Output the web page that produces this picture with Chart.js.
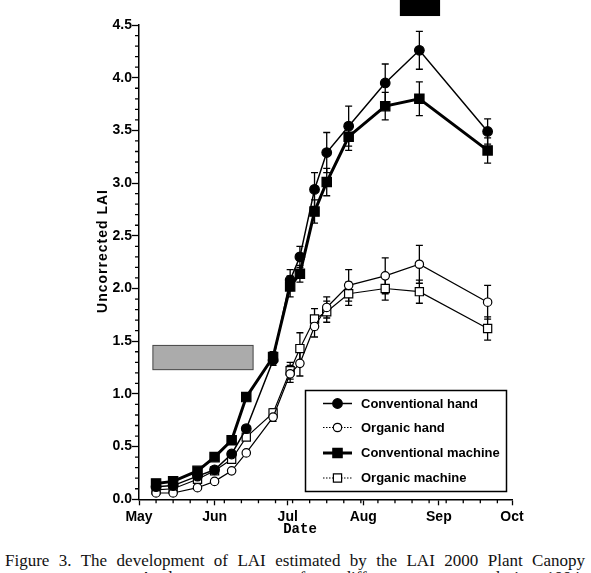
<!DOCTYPE html>
<html lang="en">
<head>
<meta charset="UTF-8">
<title>Figure 3 - LAI development</title>
<script src="https://cdn.jsdelivr.net/npm/chart.js@4"></script>
<style>
  body {
    margin: 0;
    background: #fff;
    width: 591px;
    height: 573px;
    overflow: hidden;
    position: relative;
  }
  .chart-box {
    position: absolute;
    left: 0;
    top: 0;
    width: 591px;
    height: 545px;
  }
  .caption {
    position: absolute;
    font-family: 'Liberation Serif', 'Times New Roman', serif;
    font-size: 17px;
    line-height: 20px;
    color: #111;
    text-align: justify;
    text-align-last: justify;
  }
  .line1 { left: 5px; width: 580px; top: 551px; }
  .line2 { left: 140px; width: 440px; top: 568px; }
</style>
</head>
<body>
<div class="chart-box"><canvas id="lai"></canvas></div>
<div class="caption line1">Figure 3. The development of LAI estimated by the LAI 2000 Plant Canopy</div>
<div class="caption line2">Analyzer over crops from different treatments during 1994 growing season.</div>

<script>
// days after 1 May
const days = [7, 14, 24, 31, 38, 44, 55, 62, 66, 72, 77, 86, 101, 115, 143];

const convHand    = [0.12, 0.13, 0.22, 0.28, 0.43, 0.67, 1.32, 2.08, 2.30, 2.94, 3.29, 3.54, 3.95, 4.26, 3.49];
const convHandErr = [0, 0, 0, 0, 0, 0, 0.05, 0.10, 0.10, 0.16, 0.19, 0.19, 0.18, 0.18, 0.12];
const orgHand     = [0.06, 0.06, 0.11, 0.17, 0.27, 0.44, 0.78, 1.19, 1.29, 1.64, 1.82, 2.03, 2.12, 2.23, 1.87];
const orgHandErr  = [0, 0, 0, 0, 0, 0, 0.04, 0.08, 0.12, 0.10, 0.10, 0.15, 0.17, 0.18, 0.16];
const convMach    = [0.15, 0.17, 0.27, 0.40, 0.56, 0.97, 1.35, 2.02, 2.14, 2.73, 3.01, 3.44, 3.73, 3.80, 3.31];
const convMachErr = [0, 0, 0, 0, 0, 0, 0.05, 0.10, 0.08, 0.11, 0.13, 0.13, 0.13, 0.16, 0.12];
const orgMach     = [0.09, 0.10, 0.19, 0.27, 0.38, 0.59, 0.82, 1.22, 1.43, 1.71, 1.78, 1.95, 2.00, 1.97, 1.62];
const orgMachErr  = [0, 0, 0, 0, 0, 0, 0.04, 0.08, 0.15, 0.10, 0.10, 0.11, 0.11, 0.11, 0.11];

const seriesNames = ['Conventional hand', 'Organic hand', 'Conventional machine', 'Organic machine'];

// month starts (days after 1 May) and their labels
const monthDays   = [0, 31, 61, 92, 123, 153];
const monthLabels = ['May', 'Jun', 'Jul', 'Aug', 'Sep', 'Oct'];
const weekDays    = [7, 14, 21, 28, 35, 42, 49, 56, 63, 70, 77, 84, 91, 98, 105, 112, 119, 126, 133, 140, 147];

// shaded periods (days, LAI)
const greyBoxDays  = [5.7, 46.8];
const greyBoxLAI   = [1.23, 1.46];
const blackBoxDays = [107, 123.5];
const blackBoxLAI  = [4.585, 4.8];

function xy(vals) {
  return vals.map((v, i) => ({ x: days[i], y: v }));
}

const styles = [
  { fill: '#000', shape: 'circle', r: 4.8, line: 1.5, dash: [] },
  { fill: '#fff', shape: 'circle', r: 4.2, line: 1.2, dash: [1.5, 1.5] },
  { fill: '#000', shape: 'rect',   r: 6.6, line: 3.0, dash: [] },
  { fill: '#fff', shape: 'rect',   r: 5.8, line: 1.2, dash: [1.5, 1.5] }
];
const seriesVals = [convHand, orgHand, convMach, orgMach];
const seriesErrs = [convHandErr, orgHandErr, convMachErr, orgMachErr];

const datasets = seriesVals.map((vals, i) => ({
  label: seriesNames[i],
  data: xy(vals),
  borderColor: '#000',
  borderWidth: styles[i].line,
  backgroundColor: styles[i].fill,
  pointStyle: styles[i].shape,
  pointRadius: styles[i].r,
  pointBorderWidth: 1.2,
  pointBorderColor: '#000',
  pointBackgroundColor: styles[i].fill,
  tension: 0,
  order: i === 2 ? 0 : i + 1
}));

// error bars, behind the markers
const errorBars = {
  id: 'errorBars',
  beforeDatasetsDraw(chart) {
    const { ctx, scales: { x, y } } = chart;
    ctx.save();
    ctx.strokeStyle = '#000';
    ctx.lineWidth = 1.3;
    seriesErrs.forEach((errs, s) => {
      errs.forEach((e, i) => {
        if (!e) return;
        const px = x.getPixelForValue(days[i]);
        const top = y.getPixelForValue(seriesVals[s][i] + e);
        const bot = y.getPixelForValue(seriesVals[s][i] - e);
        ctx.beginPath();
        ctx.moveTo(px, top); ctx.lineTo(px, bot);
        ctx.moveTo(px - 3.5, top); ctx.lineTo(px + 3.5, top);
        ctx.moveTo(px - 3.5, bot); ctx.lineTo(px + 3.5, bot);
        ctx.stroke();
      });
    });
    ctx.restore();
  }
};

// shaded boxes, minor ticks and axis titles
const extras = {
  id: 'extras',
  beforeDatasetsDraw(chart) {
    const { ctx, scales: { x, y } } = chart;
    ctx.save();
    // grey box
    const gx0 = x.getPixelForValue(greyBoxDays[0]), gx1 = x.getPixelForValue(greyBoxDays[1]);
    const gy0 = y.getPixelForValue(greyBoxLAI[1]), gy1 = y.getPixelForValue(greyBoxLAI[0]);
    ctx.fillStyle = '#ababab';
    ctx.fillRect(gx0, gy0, gx1 - gx0, gy1 - gy0);
    ctx.strokeStyle = '#444';
    ctx.lineWidth = 1;
    ctx.strokeRect(gx0, gy0, gx1 - gx0, gy1 - gy0);
    // black box
    const bx0 = x.getPixelForValue(blackBoxDays[0]), bx1 = x.getPixelForValue(blackBoxDays[1]);
    const by0 = y.getPixelForValue(blackBoxLAI[1]), by1 = y.getPixelForValue(blackBoxLAI[0]);
    ctx.fillStyle = '#000';
    ctx.fillRect(bx0, by0, bx1 - bx0, by1 - by0);

    // minor ticks
    ctx.strokeStyle = '#000';
    ctx.lineWidth = 1.3;
    ctx.beginPath();
    const left = x.getPixelForValue(0);
    for (let v = 1; v < 45; v++) {
      if (v % 5 === 0) continue;
      const py = y.getPixelForValue(v / 10);
      ctx.moveTo(left, py); ctx.lineTo(left - 4, py);
    }
    const base = y.getPixelForValue(0);
    weekDays.forEach(d => {
      const px = x.getPixelForValue(d);
      ctx.moveTo(px, base); ctx.lineTo(px, base + 4);
    });
    ctx.stroke();

    // axis titles
    ctx.fillStyle = '#000';
    ctx.font = 'bold 14px "Liberation Mono", monospace';
    ctx.textAlign = 'center';
    ctx.textBaseline = 'middle';
    ctx.fillText('Date', 300, 529);
    ctx.translate(103, 251);
    ctx.rotate(-Math.PI / 2);
    ctx.font = 'bold 14px "Liberation Sans", Arial, sans-serif';
    ctx.letterSpacing = '1px';
    ctx.fillText('Uncorrected LAI', 0, 0);
    ctx.restore();
  }
};

function drawMarker(ctx, st, cx, cy) {
  ctx.fillStyle = st.fill;
  ctx.strokeStyle = '#000';
  ctx.lineWidth = 1.2;
  ctx.setLineDash([]);
  ctx.beginPath();
  if (st.shape === 'circle') {
    ctx.arc(cx, cy, st.r, 0, Math.PI * 2);
  } else {
    const h = st.r * Math.SQRT1_2;
    ctx.rect(cx - h, cy - h, 2 * h, 2 * h);
  }
  ctx.fill();
  ctx.stroke();
}

const boxLegend = {
  id: 'boxLegend',
  afterDraw(chart) {
    const ctx = chart.ctx;
    ctx.save();
    ctx.fillStyle = '#fff';
    ctx.fillRect(305.5, 390.5, 201, 101);
    ctx.strokeStyle = '#000';
    ctx.lineWidth = 1.5;
    ctx.strokeRect(305.5, 390.5, 201, 101);
    const rows = [403.5, 427.5, 453, 478];
    seriesNames.forEach((name, i) => {
      const st = styles[i];
      ctx.strokeStyle = '#000';
      ctx.lineWidth = st.line;
      ctx.setLineDash(st.dash);
      ctx.beginPath();
      ctx.moveTo(323, rows[i]); ctx.lineTo(352, rows[i]);
      ctx.stroke();
      drawMarker(ctx, st, 337.5, rows[i]);
      ctx.fillStyle = '#000';
      ctx.font = 'bold 13px "Liberation Sans", Arial, sans-serif';
      ctx.textAlign = 'left';
      ctx.textBaseline = 'middle';
      ctx.fillText(name, 361, rows[i] + 0.5);
    });
    ctx.restore();
  }
};

new Chart(document.getElementById('lai'), {
  type: 'line',
  data: { datasets: datasets },
  options: {
    responsive: true,
    maintainAspectRatio: false,
    animation: false,
    layout: { padding: { left: 0, right: 79, top: 25, bottom: 0 } },
    plugins: {
      legend: { display: false },
      tooltip: { enabled: false }
    },
    scales: {
      x: {
        type: 'linear',
        min: 0,
        max: 153,
        afterBuildTicks: s => { s.ticks = monthDays.map(v => ({ value: v })); },
        afterFit: s => { s.height = 45.7; },
        grid: { drawOnChartArea: false, drawTicks: true, tickLength: 6, tickColor: '#000', tickWidth: 1.3 },
        border: { color: '#000', width: 1.5 },
        ticks: {
          autoSkip: false,
          maxRotation: 0,
          padding: 3,
          color: '#000',
          font: { family: '"Liberation Sans", Arial, sans-serif', size: 14, weight: 'bold' },
          callback: v => monthLabels[monthDays.indexOf(v)]
        }
      },
      y: {
        min: 0,
        max: 4.5,
        afterFit: s => { s.width = 139; },
        grid: { drawOnChartArea: false, drawTicks: true, tickLength: 7, tickColor: '#000', tickWidth: 1.3 },
        border: { color: '#000', width: 1.5 },
        ticks: {
          stepSize: 0.5,
          padding: 0,
          color: '#000',
          font: { family: '"Liberation Sans", Arial, sans-serif', size: 14, weight: 'bold' },
          callback: v => v.toFixed(1)
        }
      }
    }
  },
  plugins: [extras, errorBars, boxLegend]
});
</script>
</body>
</html>
